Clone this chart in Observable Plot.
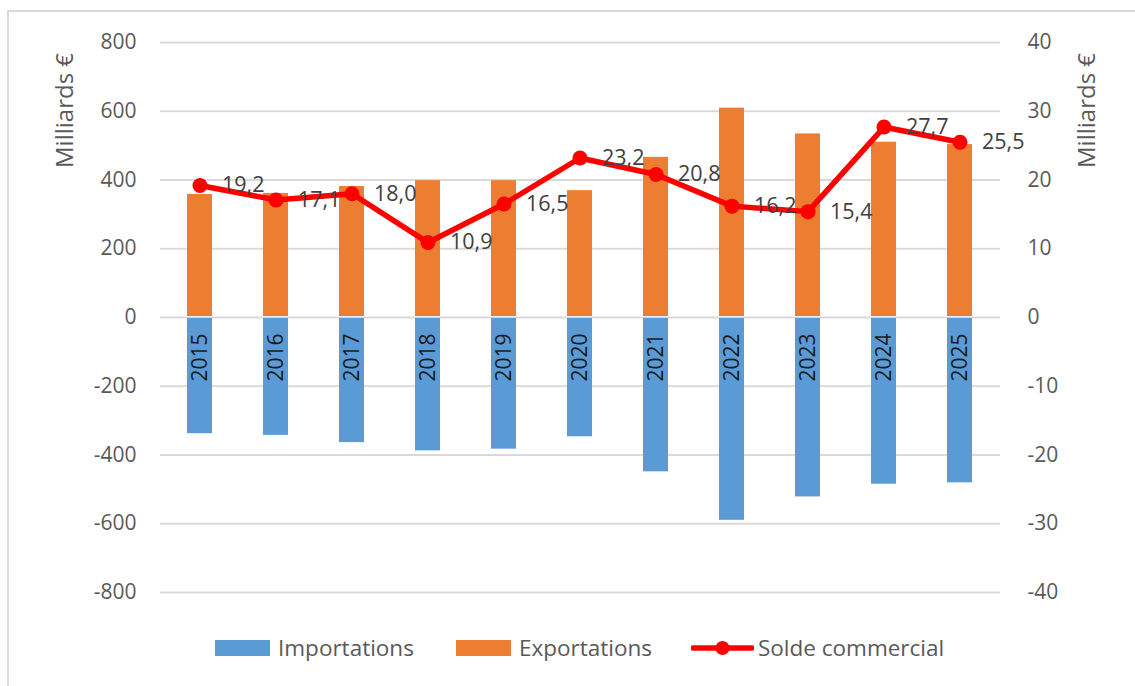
<!DOCTYPE html>
<html>
<head>
<meta charset="utf-8">
<script src="https://cdn.jsdelivr.net/npm/d3@7"></script>
<script src="https://cdn.jsdelivr.net/npm/@observablehq/plot@0.6"></script>
<style>
  html, body { margin: 0; padding: 0; background: #fff; }
  body { width: 1135px; height: 686px; position: relative; overflow: hidden; font-family: "Open Sans", sans-serif; }
  #frame { position: absolute; left: 7px; top: 10px; width: 1200px; height: 800px; border-top: 2px solid #d9d9d9; border-left: 2px solid #d9d9d9; }
  #chart { position: absolute; left: 0; top: 0; }
  #legend { position: absolute; left: 215px; top: 636px; display: flex; align-items: center; font-size: 22.5px; color: #595959; line-height: 24px; white-space: nowrap; }
  .item { display: flex; align-items: center; }
  .sw { width: 55px; height: 16px; margin-right: 8px; }
  .ln { width: 63px; height: 24px; margin-right: 4px; }
</style>
</head>
<body>
<div id="frame"></div>
<div id="chart"></div>
<div id="legend"></div>
<script>
const years = ["2015","2016","2017","2018","2019","2020","2021","2022","2023","2024","2025"];
const exportations = [358, 361, 381, 398, 398, 369, 466, 609, 534, 510, 503];
const importations = [-338, -343, -364, -388, -383, -347, -449, -590, -522, -485, -481];
const solde = [19.2, 17.1, 18.0, 10.9, 16.5, 23.2, 20.8, 16.2, 15.4, 27.7, 25.5];
const leftTicks = [-800, -600, -400, -200, 0, 200, 400, 600, 800];
const seriesNames = ["Importations", "Exportations", "Solde commercial"];
const colors = {imp: "#5b9bd5", exp: "#ed7d31", solde: "#ff0000"};
const ratio = 20; // right axis (solde) is left axis / 20

const data = years.map((y, i) => ({year: y, exp: exportations[i], imp: importations[i], solde: solde[i]}));
const fmt = v => v.toFixed(1).replace(".", ",");

const plot = Plot.plot({
  width: 1135,
  height: 620,
  marginTop: 42,
  marginBottom: 28,
  marginLeft: 160,
  marginRight: 135,
  style: {fontFamily: "'Open Sans', sans-serif", fontSize: "21px", color: "#595959", background: "transparent", overflow: "visible"},
  x: {type: "band", domain: years, paddingInner: 0.666, paddingOuter: 0.333, axis: null},
  y: {domain: [-800, 800], axis: null},
  marks: [
    Plot.gridY(leftTicks, {stroke: "#d9d9d9", strokeOpacity: 1, strokeWidth: 2}),
    Plot.barY(data, {x: "year", y1: 0, y2: "exp", fill: colors.exp, insetBottom: 1}),
    Plot.barY(data, {x: "year", y1: 0, y2: "imp", fill: colors.imp, insetTop: 1}),
    Plot.text(data, {x: "year", y: 0, text: "year", rotate: -90, textAnchor: "end", dy: 16, fill: "#1a1a1a", fontSize: 21}),
    Plot.axisY(leftTicks, {anchor: "left", tickSize: 0, tickPadding: 24, tickFormat: d => String(d), label: null, fontSize: 21}),
    Plot.axisY(leftTicks, {anchor: "right", tickSize: 0, tickPadding: 27, tickFormat: d => String(d / ratio), label: null, fontSize: 21}),
    Plot.text(["Milliards €"], {frameAnchor: "top-left", textAnchor: "middle", lineAnchor: "middle", dx: -95, dy: 68, rotate: -90, fontSize: 24, fill: "#595959"}),
    Plot.text(["Milliards €"], {frameAnchor: "top-right", textAnchor: "middle", lineAnchor: "middle", dx: 87, dy: 68, rotate: -90, fontSize: 24, fill: "#595959"}),
    Plot.line(data, {x: "year", y: d => d.solde * ratio, stroke: colors.solde, strokeWidth: 5.5, curve: "linear"}),
    Plot.dot(data, {x: "year", y: d => d.solde * ratio, r: 7.5, fill: colors.solde, stroke: "none"}),
    Plot.text(data, {x: "year", y: d => d.solde * ratio, text: d => fmt(d.solde), textAnchor: "start", dx: 22, fill: "#404040", fontSize: 21.5})
  ]
});
document.getElementById("chart").appendChild(plot);

const legend = document.getElementById("legend");
const gaps = [42, 39, 0];
seriesNames.forEach((name, i) => {
  const item = document.createElement("div");
  item.className = "item";
  item.style.marginRight = gaps[i] + "px";
  if (i < 2) {
    const sw = document.createElement("div");
    sw.className = "sw";
    sw.style.background = i === 0 ? colors.imp : colors.exp;
    item.appendChild(sw);
  } else {
    const svg = d3.create("svg").attr("class", "ln").attr("width", 63).attr("height", 24);
    svg.append("line").attr("x1", 2).attr("x2", 61).attr("y1", 12).attr("y2", 12)
      .attr("stroke", colors.solde).attr("stroke-width", 5.5).attr("stroke-linecap", "round");
    svg.append("circle").attr("cx", 31.5).attr("cy", 12).attr("r", 7).attr("fill", colors.solde);
    item.appendChild(svg.node());
  }
  const t = document.createElement("span");
  t.textContent = name;
  item.appendChild(t);
  legend.appendChild(item);
});
</script>
</body>
</html>
